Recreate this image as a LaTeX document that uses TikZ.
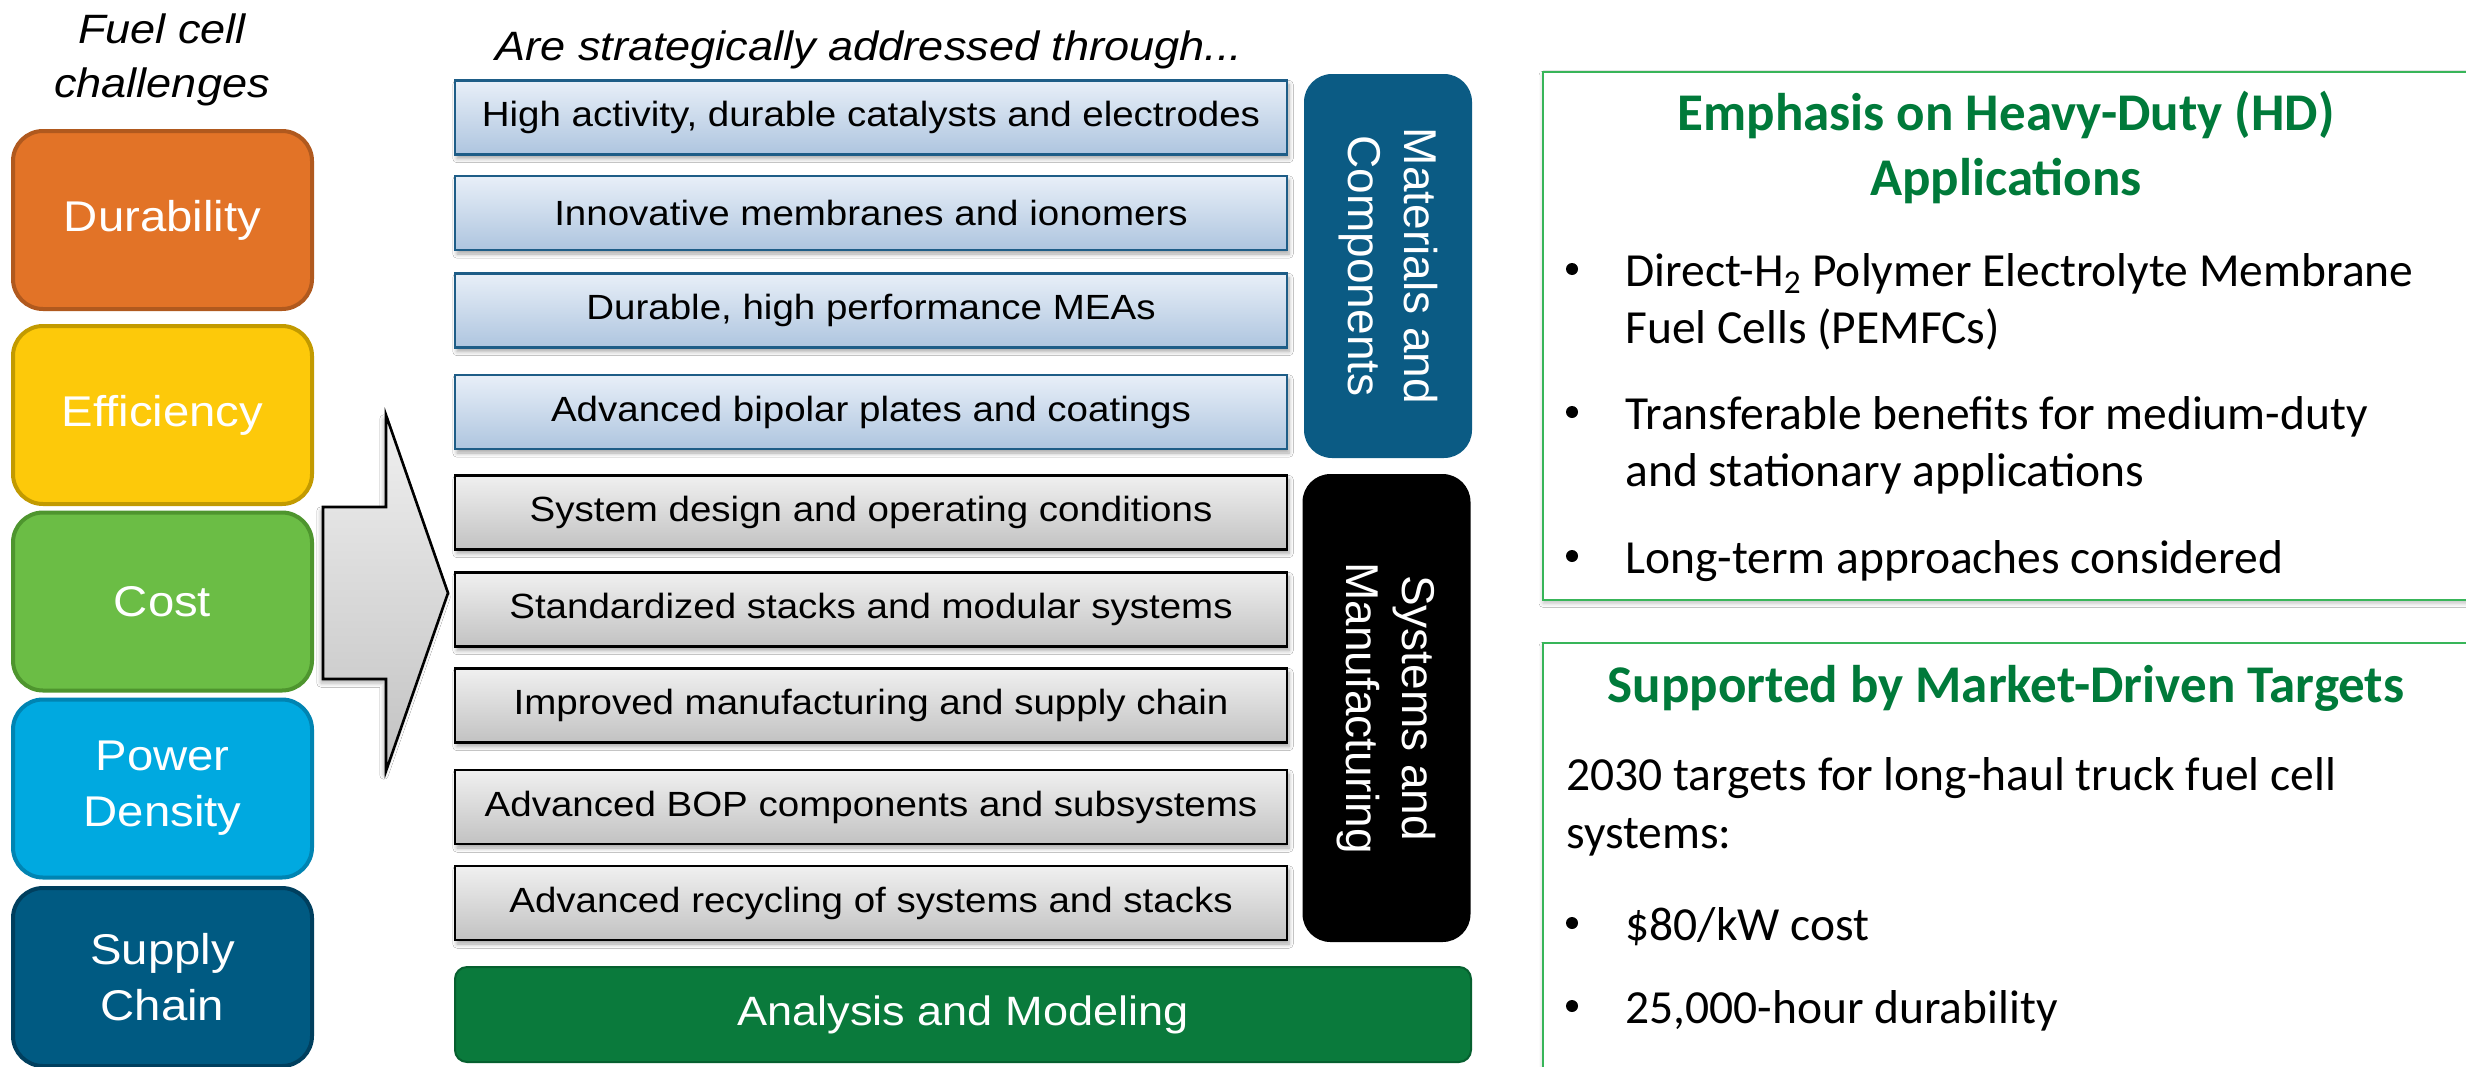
\documentclass[tikz,border=0pt]{standalone}
\usepackage{fontspec}
\setmainfont{Liberation Sans}
\newfontfamily\gothic{Liberation Sans}[FakeStretch=1.1]
\newfontfamily\calibri{Carlito}
\usetikzlibrary{shadows.blur}

\definecolor{durorange}{HTML}{E27327}
\definecolor{durborder}{HTML}{B0591E}
\definecolor{effyellow}{HTML}{FDC90A}
\definecolor{effborder}{HTML}{C29A00}
\definecolor{costgreen}{HTML}{6BBD45}
\definecolor{costborder}{HTML}{4E952E}
\definecolor{pdblue}{HTML}{00A9E0}
\definecolor{pdborder}{HTML}{0084B2}
\definecolor{scnavy}{HTML}{005A82}
\definecolor{scborder}{HTML}{003F5E}
\definecolor{mcnavy}{HTML}{0B5B84}
\definecolor{bluetop}{HTML}{E8EFF8}
\definecolor{bluebot}{HTML}{AEC5DF}
\definecolor{blueedge}{HTML}{1E5D87}
\definecolor{graytop}{HTML}{F0F0F0}
\definecolor{graybot}{HTML}{C2C2C2}
\definecolor{amgreen}{HTML}{0A7A3C}
\definecolor{amborder}{HTML}{06602F}
\definecolor{paneledge}{HTML}{38B559}
\definecolor{titlegreen}{HTML}{007A3A}

\begin{document}
\begin{tikzpicture}[x=0.5pt,y=-0.5pt,
  challenge/.style={draw, line width=2pt, rounded corners=15pt, minimum width=149.5pt,
    minimum height=89pt, inner sep=0pt, text=white, align=center,
    font=\gothic\fontsize{21.5}{28}\selectfont},
  heading/.style={inner sep=0pt, font=\gothic\itshape\fontsize{20.5}{27}\selectfont},
  strategy/.style={minimum width=416pt, minimum height=37pt, inner sep=0pt, line width=1.2pt,
    font=\gothic\fontsize{17.5}{21}\selectfont,
    blur shadow={shadow xshift=1pt, shadow yshift=-2pt, shadow blur steps=6, shadow opacity=35}},
  materialbox/.style={strategy, draw=blueedge, top color=bluetop, bottom color=bluebot},
  systembox/.style={strategy, draw=black, top color=graytop, bottom color=graybot},
  grouplabel/.style={rotate=-90, rounded corners=14pt, minimum height=84pt, inner sep=0pt,
    text=white, align=center, font=\fontsize{23}{28}\selectfont},
  panel/.style={draw=paneledge, line width=1.2pt, inner sep=0pt, fill=white,
    blur shadow={shadow xshift=0pt, shadow yshift=-1.5pt, shadow opacity=25}},
  paneltitle/.style={inner sep=0pt, anchor=base, text=titlegreen,
    font=\calibri\bfseries\fontsize{26.5}{32}\selectfont},
  paneltext/.style={inner sep=0pt, anchor=base west, font=\calibri\fontsize{23.75}{28.5}\selectfont},
  bulletmark/.style={circle, fill=black, inner sep=0pt, minimum size=6pt}
]
\useasboundingbox (0,0) rectangle (2466,1066);
\fill[white] (0,0) rectangle (2466,1066);
\clip (0,0) rectangle (2466,1066);

% challenge column
\node[heading, anchor=base] (fuelcell) at (162,43) {Fuel cell};
\node[heading, anchor=base] (challenges) at (162,97) {challenges};
\node[challenge, fill=durorange, draw=durborder] (durability) at (162.5,220) {Durability};
\node[challenge, fill=effyellow, draw=effborder] (efficiency) at (162.5,415) {Efficiency};
\node[challenge, fill=costgreen, draw=costborder] (cost) at (162.5,601.5) {Cost};
\node[challenge, fill=pdblue, draw=pdborder] (density) at (162.5,788.5) {Power\\Density};
\node[challenge, fill=scnavy, draw=scborder] (supply) at (162.5,977) {Supply\\Chain};

% block arrow
\path[draw=black, line width=1.3pt, top color=graytop, bottom color=graybot,
  blur shadow={shadow xshift=-1pt, shadow yshift=-2pt, shadow opacity=30}]
  (323,507) -- (386,507) -- (386,415) -- (448,593) -- (386,771) -- (386,679) -- (323,679) -- cycle;

% strategies
\node[heading, anchor=base west] (through) at (495,60) {Are strategically addressed through...};
\node[materialbox] (catalysts) at (871,117.5) {High activity, durable catalysts and electrodes};
\node[materialbox] (membranes) at (871,213) {Innovative membranes and ionomers};
\node[materialbox] (meas) at (871,310.5) {Durable, high performance MEAs};
\node[materialbox] (plates) at (871,412) {Advanced bipolar plates and coatings};
\node[systembox] (design) at (871,512.5) {System design and operating conditions};
\node[systembox] (stacks) at (871,609.5) {Standardized stacks and modular systems};
\node[systembox] (manufacturing) at (871,705.5) {Improved manufacturing and supply chain};
\node[systembox] (bop) at (871,807) {Advanced BOP components and subsystems};
\node[systembox] (recycling) at (871,903) {Advanced recycling of systems and stacks};

\node[grouplabel, fill=mcnavy, minimum width=192pt] (materials) at (1388,266) {Materials and\\Components};
\node[grouplabel, fill=black, minimum width=234pt] (systems) at (1386.5,708) {Systems and\\Manufacturing};

\node[fill=amgreen, draw=amborder, line width=1pt, rounded corners=6pt, minimum width=508pt,
  minimum height=47.5pt, inner sep=0pt, text=white, font=\gothic\fontsize{20.5}{24}\selectfont]
  (analysis) at (963,1014.5) {Analysis and Modeling};

% heavy-duty emphasis panel
\node[panel, anchor=north west, minimum width=470pt, minimum height=264pt] (emphasis) at (1542,71) {};
\node[paneltitle] (emphtitle) at (2006,130) {Emphasis on Heavy-Duty (HD)};
\node[paneltitle] (emphtitletwo) at (2006,195) {Applications};
\node[bulletmark] (dotone) at (1572,269) {};
\node[paneltext] (pemfc) at (1625,286) {Direct-H\textsubscript{2} Polymer Electrolyte Membrane};
\node[paneltext] (pemfctwo) at (1625,343) {Fuel Cells (PEMFCs)};
\node[bulletmark] (dottwo) at (1572,412) {};
\node[paneltext] (transfer) at (1625,429) {Transferable benefits for medium-duty};
\node[paneltext] (transfertwo) at (1625,486) {and stationary applications};
\node[bulletmark] (dotthree) at (1572,556) {};
\node[paneltext] (longterm) at (1625,573) {Long-term approaches considered};

% market-driven targets panel
\node[panel, anchor=north west, minimum width=470pt, minimum height=220pt] (targets) at (1542,642) {};
\node[paneltitle] (targettitle) at (2006,702) {Supported by Market-Driven Targets};
\node[paneltext] (intro) at (1566,790) {2030 targets for long-haul truck fuel cell};
\node[paneltext] (introtwo) at (1566,848) {systems:};
\node[bulletmark] (dotfour) at (1572,923) {};
\node[paneltext] (costtarget) at (1625,940) {\$80/kW cost};
\node[bulletmark] (dotfive) at (1572,1006) {};
\node[paneltext] (lifetarget) at (1625,1023) {25,000-hour durability};
\end{tikzpicture}
\end{document}
